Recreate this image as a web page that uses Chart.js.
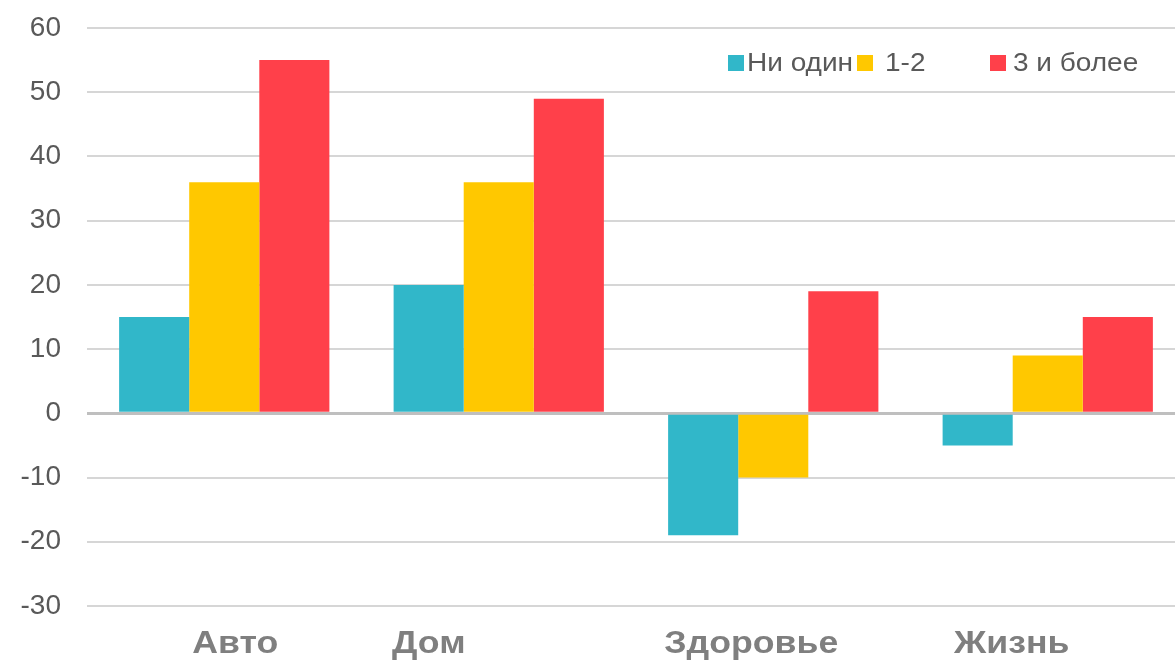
<!DOCTYPE html>
<html>
<head>
<meta charset="utf-8">
<script src="https://cdn.jsdelivr.net/npm/chart.js@4/dist/chart.umd.min.js"></script>
<style>
  html, body { margin: 0; padding: 0; background: #fff; overflow: hidden; }
  #wrap { position: relative; width: 1175px; height: 661px; overflow: hidden; }
  #box { position: absolute; left: 0; top: 0; width: 1185px; height: 661px; }
  #legend { position: absolute; top: 47px; left: 728px; font-family: "Liberation Sans", Arial, sans-serif;
            font-size: 25px; line-height: 30px; color: #595959; white-space: nowrap; }
  #legend span.item { position: absolute; top: 0; }
  #legend i { display: inline-block; width: 16px; height: 16px; vertical-align: 0px; }
  #legend b { display: inline-block; font-weight: normal; transform: scaleX(1.12); transform-origin: left center; }
</style>
</head>
<body>
<div id="wrap">
  <div id="box"><canvas id="barChart"></canvas></div>
  <div id="legend"></div>
</div>
<script>
// categories and series
var categories = ["Авто", "Дом", "Здоровье", "Жизнь"];
var seriesNames = ["Ни один", "1-2", "3 и более"];
var noneValues = [15, 20, -19, -5];
var oneTwoValues = [36, 36, -10, 9];
var threePlusValues = [55, 49, 19, 15];
var yTicks = [-30, -20, -10, 0, 10, 20, 30, 40, 50, 60];

var barColors = ["#31B7C9", "#FFC800", "#FF404A"];

// label placement tweaks (the original labels are not centred)
var labelShift = [11, -70, -22, -36];
var legendLeft = [0, 129, 262];
var legendGap = [3, 12, 7];

// html legend
var legend = document.getElementById("legend");
seriesNames.forEach(function (name, i) {
  var s = document.createElement("span");
  s.className = "item";
  s.style.left = legendLeft[i] + "px";
  var box = document.createElement("i");
  box.style.background = barColors[i];
  box.style.marginRight = legendGap[i] + "px";
  var txt = document.createElement("b");
  txt.textContent = name;
  s.appendChild(box);
  s.appendChild(txt);
  legend.appendChild(s);
});

var xLabels = {
  id: "xLabels",
  afterDraw: function (chart) {
    var ctx = chart.ctx;
    var x = chart.scales.x;
    ctx.save();
    ctx.font = "bold 31px 'Liberation Sans', Arial, sans-serif";
    ctx.fillStyle = "#7F7F7F";
    ctx.textAlign = "center";
    ctx.textBaseline = "middle";
    categories.forEach(function (c, i) {
      var cx = x.getPixelForValue(i) + labelShift[i];
      ctx.save();
      ctx.translate(cx, chart.chartArea.bottom + 38);
      ctx.scale(1.15, 1);
      ctx.fillText(c, 0, 0);
      ctx.restore();
    });
    ctx.restore();
  }
};

new Chart("barChart", {
  type: "bar",
  data: {
    labels: categories,
    datasets: [
      { label: seriesNames[0], data: noneValues, backgroundColor: barColors[0] },
      { label: seriesNames[1], data: oneTwoValues, backgroundColor: barColors[1] },
      { label: seriesNames[2], data: threePlusValues, backgroundColor: barColors[2] }
    ]
  },
  options: {
    responsive: true,
    maintainAspectRatio: false,
    animation: false,
    layout: { padding: { top: 28, right: 0, left: 0, bottom: 0 } },
    datasets: { bar: { barPercentage: 1, categoryPercentage: 0.766 } },
    plugins: {
      legend: { display: false },
      tooltip: { enabled: false }
    },
    scales: {
      x: {
        grid: { display: false, drawTicks: false },
        border: { display: false },
        ticks: { display: false },
        afterFit: function (scale) { scale.height = 55; }
      },
      y: {
        min: -30,
        max: 60,
        afterBuildTicks: function (scale) {
          scale.ticks = yTicks.map(function (v) { return { value: v }; });
        },
        grid: {
          drawTicks: false,
          color: function (c) { return c.tick && c.tick.value === 0 ? "#BFBFBF" : "#D6D6D6"; },
          lineWidth: function (c) { return c.tick && c.tick.value === 0 ? 3 : 2; }
        },
        border: { display: false },
        ticks: {
          padding: 26,
          color: "#595959",
          font: { family: "'Liberation Sans', Arial, sans-serif", size: 28 }
        },
        afterFit: function (scale) {
          scale.width = 87;
          scale.paddingTop = 0;
          scale.paddingBottom = 0;
        }
      }
    }
  },
  plugins: [xLabels]
});
</script>
</body>
</html>
